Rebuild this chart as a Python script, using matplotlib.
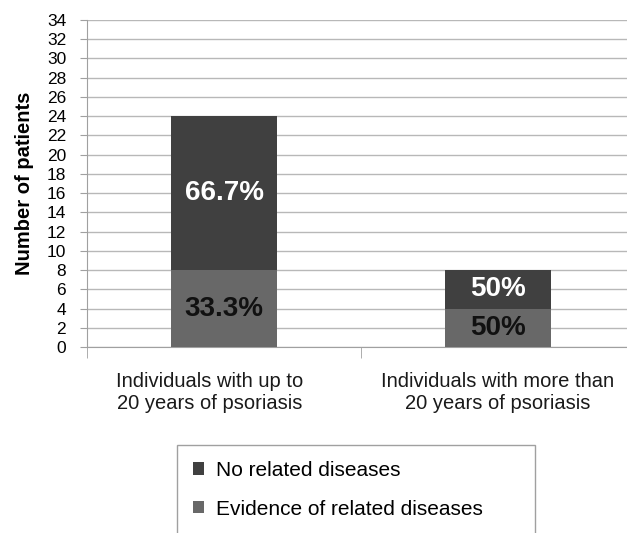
import numpy as np
import matplotlib.pyplot as plt
from matplotlib.patches import Rectangle
from matplotlib.transforms import ScaledTranslation

plt.rcParams['font.family'] = ['Liberation Sans', 'DejaVu Sans']

# data
categories = ['Individuals with up to\n20 years of psoriasis',
              'Individuals with more than\n20 years of psoriasis']
evidence = [8, 4]          # Evidence of related diseases
no_related = [16, 4]       # No related diseases
evidence_pct = ['33.3%', '50%']
no_related_pct = ['66.7%', '50%']

c_dark = '#404040'
c_mid = '#686868'

fig = plt.figure(figsize=(6.27, 5.33), dpi=100)
ax = fig.add_axes([87 / 627, 186 / 533, 548 / 627, 327 / 533])

x = np.arange(len(categories))
w = 0.39
ax.bar(x, evidence, w, color=c_mid, label='Evidence of related diseases', zorder=3)
ax.bar(x, no_related, w, bottom=evidence, color=c_dark, label='No related diseases', zorder=3)

for i in range(len(x)):
    ax.text(x[i], evidence[i] / 2, evidence_pct[i], ha='center', va='center',
            fontsize=20, fontweight='bold', color='#111111', zorder=4)
    ax.text(x[i], evidence[i] + no_related[i] / 2, no_related_pct[i], ha='center', va='center',
            fontsize=20, fontweight='bold', color='white', zorder=4)

ax.set_xlim(-0.5, 1.5)
ax.set_ylim(0, 34)
ax.set_yticks(np.arange(0, 35, 2))
ax.tick_params(axis='y', labelsize=12.5, length=5, color='#a0a0a0', pad=10)
ax.yaxis.grid(True, color='#b8b8b8', linewidth=1, zorder=0)

ax.set_xticks(x)
ax.set_xticklabels(categories, fontsize=14.5, color='#1a1a1a')
ax.tick_params(axis='x', which='major', length=0, pad=18)
ax.set_xticks([-0.5, 0.5, 1.5], minor=True)
ax.tick_params(axis='x', which='minor', length=8, color='#a0a0a0')
# first category label sits a little left of its bar
lab0 = ax.get_xticklabels()[0]
lab0.set_transform(lab0.get_transform() + ScaledTranslation(-0.14, 0, fig.dpi_scale_trans))

for s in ['top', 'right']:
    ax.spines[s].set_visible(False)
for s in ['left', 'bottom']:
    ax.spines[s].set_color('#a0a0a0')

ax.set_ylabel('Number of patients', fontsize=14.5, fontweight='bold', labelpad=9)

# legend box (bottom edge runs off the picture)
fig.patches.append(Rectangle((177 / 627, -0.05), (535 - 177) / 627, (533 - 445) / 533 + 0.05,
                             transform=fig.transFigure, fill=False, edgecolor='#a0a0a0', lw=1))
h, l = ax.get_legend_handles_labels()
fig.legend(h[::-1], l[::-1], loc='upper left', bbox_to_anchor=(174 / 627, 1 - 442 / 533),
           frameon=False, fontsize=15, handlelength=0.55, handleheight=0.55,
           handletextpad=0.55, labelspacing=0.95)

plt.savefig('out.png', dpi=100)
